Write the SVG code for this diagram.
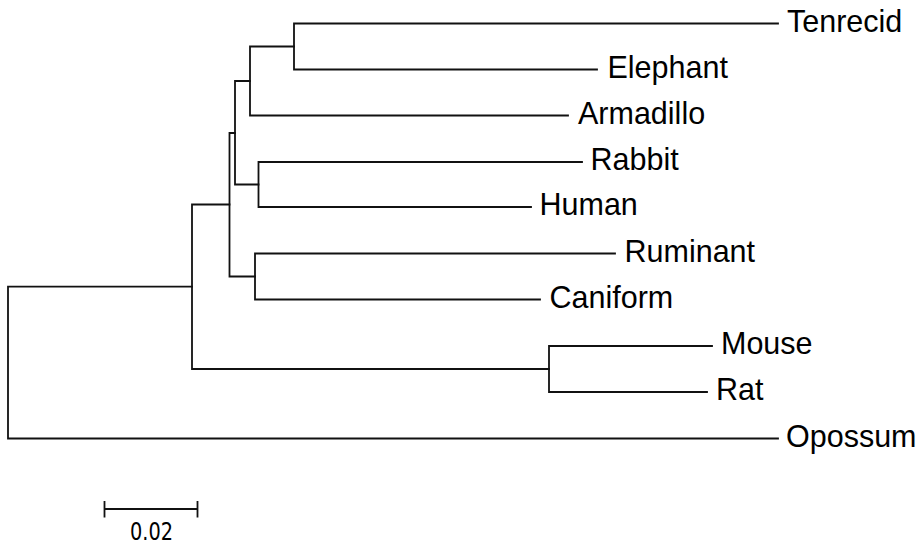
<svg xmlns="http://www.w3.org/2000/svg" width="923" height="546" viewBox="0 0 923 546">
<style>
.e{fill:none;stroke:#111;stroke-width:1.8;stroke-linecap:square}
.t{font-family:"Liberation Sans",Arial,sans-serif;font-size:30.5px;fill:#000}
.s{font-family:"DejaVu Sans Condensed","Liberation Sans",sans-serif;font-size:25px;fill:#000}
</style>
<rect width="923" height="546" fill="#fff"/>
<g id="connectors">
<path class="e" d="M8 286.7V438.5M8 286.7H192M8 438.5H778"/>
<path class="e" d="M192 204.5V369M192 204.5H229.5M192 369H549"/>
<path class="e" d="M549 346V392M549 346H712M549 392H707"/>
<path class="e" d="M229.5 133V276.5M229.5 133H235M229.5 276.5H255"/>
<path class="e" d="M255 253.5V299.5M255 253.5H615M255 299.5H540"/>
<path class="e" d="M235 81V184.5M235 81H250M235 184.5H258.5"/>
<path class="e" d="M258.5 162V207M258.5 162H582M258.5 207H531"/>
<path class="e" d="M250 46.5V115.5M250 46.5H294M250 115.5H568"/>
<path class="e" d="M294 23.5V69.5M294 23.5H778M294 69.5H597"/>
</g>
<g id="Tenrecid"><text class="t" x="787" y="31.5">Tenrecid</text></g>
<g id="Elephant"><text class="t" x="607.5" y="77.5">Elephant</text></g>
<g id="Armadillo"><text class="t" x="578" y="123.5">Armadillo</text></g>
<g id="Rabbit"><text class="t" x="590.5" y="170">Rabbit</text></g>
<g id="Human"><text class="t" x="539.5" y="215">Human</text></g>
<g id="Ruminant"><text class="t" x="624.5" y="261.5">Ruminant</text></g>
<g id="Caniform"><text class="t" x="549.5" y="307.5">Caniform</text></g>
<g id="Mouse"><text class="t" x="721" y="354">Mouse</text></g>
<g id="Rat"><text class="t" x="716" y="400">Rat</text></g>
<g id="Opossum"><text class="t" x="786" y="446.5">Opossum</text></g>
<g id="scale">
<path class="e" d="M104.5 509H197.5M104.5 502V516.5M197.5 502V516.5"/>
<text class="s" x="151.5" y="540" text-anchor="middle" textLength="43" lengthAdjust="spacingAndGlyphs">0.02</text>
</g>
</svg>
